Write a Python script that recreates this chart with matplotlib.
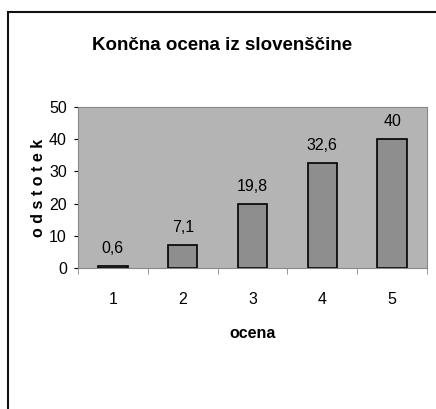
import matplotlib
matplotlib.use('Agg')
import matplotlib.pyplot as plt
from matplotlib.patches import Rectangle

plt.rcParams['font.family'] = ['Liberation Sans', 'DejaVu Sans']

ocene = ['1', '2', '3', '4', '5']
odstotek = [0.6, 7.1, 19.8, 32.6, 40]
oznake = ['0,6', '7,1', '19,8', '32,6', '40']

W, H = 436, 409
fig = plt.figure(figsize=(W / 100, H / 100), dpi=100)
fig.patch.set_facecolor('white')

# outer chart frame (runs off the right/bottom edge)
fig.patches.append(Rectangle((8 / W, -0.05), 1.2, 1 - 12 / H + 0.05,
                             transform=fig.transFigure, fill=False,
                             edgecolor='#111111', linewidth=1.5))

ax = fig.add_axes([78 / W, 1 - 268 / H, (427 - 78) / W, (268 - 107) / H])
ax.set_facecolor('#b4b4b4')
x = range(len(ocene))
ax.bar(x, odstotek, width=0.42, color='#8e8e8e', edgecolor='black', linewidth=1.2)
for xi, v, t in zip(x, odstotek, oznake):
    ax.text(xi, v + 3.2, t, ha='center', va='bottom', fontsize=11.5)

ax.set_xlim(-0.5, 4.5)
ax.set_ylim(0, 50)
ax.set_yticks([0, 10, 20, 30, 40, 50])
ax.tick_params(axis='y', labelsize=11.5, length=3, pad=5)
ax.set_xticks(list(x))
ax.set_xticklabels(ocene, fontsize=11.5)
ax.tick_params(axis='x', length=0, pad=17)
ax.set_xticks([i - 0.5 for i in range(6)], minor=True)
ax.tick_params(axis='x', which='minor', length=4, color='#888888')
for s in ['top', 'right', 'left', 'bottom']:
    ax.spines[s].set_color('#888888')

ax.set_xlabel('ocena', fontsize=11.5, fontweight='bold', labelpad=14)
ax.set_ylabel('o d s t o t e k', fontsize=11.5, fontweight='bold', labelpad=2)

fig.text(222 / W, 1 - 45 / H, 'Končna ocena iz slovenščine',
         ha='center', va='center', fontsize=13.5, fontweight='bold')

fig.savefig('out.png', dpi=100)
